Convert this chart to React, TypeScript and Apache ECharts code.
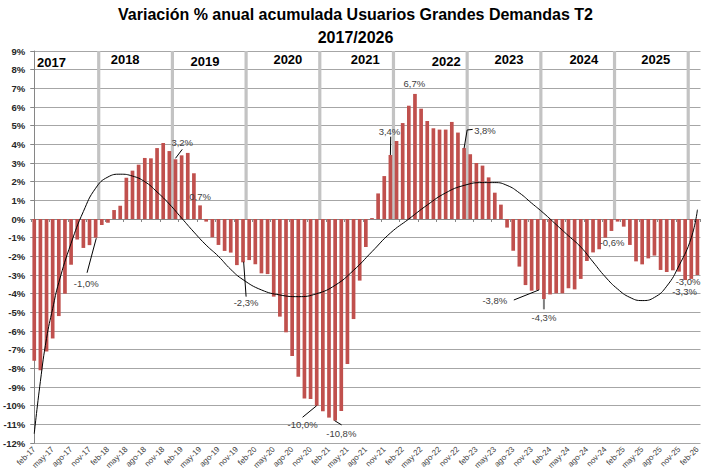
import { useEffect, useRef } from "react";
import * as echarts from "echarts";

// ---------- DATA ----------
const MONTH_NAMES = ["ene", "feb", "mar", "abr", "may", "jun", "jul", "ago", "sep", "oct", "nov", "dic"];
const categories: string[] = [];
for (let k = 0; k < 109; k++) {
  const m = (1 + k) % 12;
  const y = 17 + Math.floor((1 + k) / 12);
  categories.push(`${MONTH_NAMES[m]}-${y}`);
}

const values2017 = [-7.6, -8.1, -7.1, -6.4, -5.2, -4.0, -2.45, -1.1, -1.55, -1.4, -1.0];
const values2018 = [-0.32, -0.2, 0.48, 0.71, 2.21, 2.59, 2.91, 3.27, 3.25, 3.8, 4.07, 3.64];
const values2019 = [3.2, 3.41, 3.54, 2.45, 0.73, -0.14, -0.98, -1.39, -1.71, -1.8, -2.47, -2.32];
const values2020 = [-2.2, -2.43, -2.91, -2.95, -4.16, -5.23, -6.07, -7.34, -8.45, -9.62, -9.64, -10.0];
const values2021 = [-10.3, -10.64, -10.8, -10.28, -7.77, -5.36, -3.3, -1.5, 0.05, 1.37, 2.3, 3.43];
const values2022 = [4.18, 5.14, 6.07, 6.7, 5.91, 5.25, 4.86, 4.79, 4.79, 5.2, 4.63, 3.8];
const values2023 = [3.47, 3.0, 2.86, 2.23, 1.41, 0.77, -0.46, -1.7, -2.55, -3.54, -3.84, -3.8];
const values2024 = [-4.29, -4.04, -3.98, -3.98, -3.71, -3.77, -3.21, -2.25, -1.79, -1.62, -1.0, -0.64];
const values2025 = [-0.14, -0.41, -1.39, -2.27, -2.43, -2.11, -1.96, -2.73, -2.84, -2.75, -2.82, -3.27];
const values2026 = [-3.21, -3.0];
const values = [
  ...values2017, ...values2018, ...values2019, ...values2020, ...values2021,
  ...values2022, ...values2023, ...values2024, ...values2025, ...values2026,
];

// trend line (polynomial trend): [month index, value]
const trendPoints: [number, number][] = [
  [0, -11.5], [1, -8.7], [2, -6.4], [3, -4.8], [4, -3.4], [6, -1.3], [8, 0.4],
  [10, 1.65], [12, 2.25], [14, 2.4], [16, 2.3], [18, 2.0], [20, 1.45], [22, 0.8],
  [24, 0.05], [26, -0.7], [28, -1.4], [30, -2.0], [32, -2.7], [34, -3.25], [37, -3.8],
  [40, -4.07], [43, -4.16], [46, -4.0], [49, -3.55], [52, -2.75], [55, -1.75],
  [58, -0.75], [61, 0.0], [64, 0.75], [67, 1.4], [70, 1.8], [73, 1.95], [75, 1.95],
  [77, 1.8], [79, 1.4], [81, 0.85], [83, 0.3], [85, -0.3], [87, -0.9], [89, -1.5],
  [91, -2.3], [93, -3.1], [95, -3.75], [97, -4.2], [99, -4.37], [101, -4.2],
  [103, -3.6], [105, -2.5], [107, -1.0], [108, 0.5],
];

const yearNames = ["2017", "2018", "2019", "2020", "2021", "2022", "2023", "2024", "2025"];

// ---------- LAYOUT (annotation anchors in data space) ----------
const yearLabelAnchors: [number, number][] = [
  [2.8, 8.36], [14.8, 8.52], [27.8, 8.46], [41.3, 8.57], [53.9, 8.57],
  [67.1, 8.46], [77.3, 8.57], [89.5, 8.52], [101.2, 8.57],
];

type Annot = {
  i: number;
  lx: number;
  ly: number;
  align?: string;
  leader?: [number, number][];
  leaderColor?: string;
  leaderWidth?: number;
};
const annotations: Annot[] = [
  { i: 10, lx: 8.46, ly: -3.48, leader: [[10.1, -1.03], [8.6, -2.88]] },
  { i: 23, lx: 24.1, ly: 4.12, leader: [[23, 3.25], [24.1, 3.73]] },
  { i: 27, lx: 27, ly: 1.23 },
  { i: 34, lx: 34.5, ly: -4.45, leader: [[34.1, -2.29], [34.5, -4.16]] },
  { i: 46, lx: 43.7, ly: -11.03, leader: [[46, -10.0], [43.7, -10.62]] },
  { i: 49, lx: 50, ly: -11.49, leader: [[48.9, -10.8], [50.05, -11.03]] },
  { i: 58, lx: 57.85, ly: 4.69, leader: [[58, 3.43], [58.05, 4.41]] },
  { i: 62, lx: 61.9, ly: 7.26 },
  { i: 70, lx: 73.4, ly: 4.74, leader: [[70, 3.79], [70.5, 4.77], [71.4, 4.8]] },
  { i: 82, lx: 75, ly: -4.37, leader: [[82.2, -3.8], [78.1, -4.34]] },
  { i: 83, lx: 83, ly: -5.28, leader: [[83, -4.29], [83, -4.84]], leaderColor: "#7f7f7f", leaderWidth: 2 },
  { i: 94, lx: 94.1, ly: -1.26 },
  { i: 106, lx: 105.9, ly: -3.86 },
  { i: 108, lx: 108.5, ly: -3.35, align: "right" },
];

const FONT = "'Liberation Sans', Arial, sans-serif";

function fmt(v: number) {
  return v.toFixed(1).replace(".", ",") + "%";
}

export default function App() {
  const ref = useRef<HTMLDivElement>(null);
  useEffect(() => {
    if (!ref.current) return;
    const chart = echarts.init(ref.current, undefined, { renderer: "svg" });
    const sepIdx = categories.map((c, i) => (c.startsWith("ene") ? i - 0.5 : null)).filter((v) => v !== null) as number[];

    const option: any = {
      animation: false,
      backgroundColor: "#ffffff",
      title: {
        text: "Variación % anual acumulada Usuarios Grandes Demandas T2\n2017/2026",
        left: "center",
        top: 3,
        padding: 0,
        textStyle: { fontFamily: FONT, fontWeight: "bold", fontSize: 16, color: "#000", lineHeight: 23 },
      },
      grid: { left: 28.5, right: 10.5, top: 51, bottom: 31, containLabel: false },
      xAxis: [
        {
          type: "category",
          data: categories,
          position: "bottom",
          axisLine: { show: false, onZero: false },
          axisTick: { show: false },
          splitLine: { show: false },
          axisLabel: {
            interval: 2,
            rotate: 45,
            fontSize: 8,
            fontFamily: FONT,
            color: "#404040",
            margin: 5,
          },
        },
        {
          type: "category",
          data: categories,
          position: "bottom",
          axisLine: { show: true, onZero: true, lineStyle: { color: "#868686", width: 1 } },
          axisTick: { show: true, interval: 2, length: 3, lineStyle: { color: "#868686" } },
          axisLabel: { show: false },
          splitLine: { show: false },
        },
        { type: "value", min: -0.5, max: 108.5, show: false },
      ],
      yAxis: {
        type: "value",
        min: -12,
        max: 9,
        interval: 1,
        axisLine: { show: true, lineStyle: { color: "#868686" } },
        axisTick: { show: true, length: 4, lineStyle: { color: "#868686" } },
        splitLine: { show: true, lineStyle: { color: "#a6a6a6", width: 1 } },
        axisLabel: {
          formatter: (v: number) => `${v}%`,
          fontFamily: FONT,
          fontWeight: "bold",
          fontSize: 9.5,
          color: "#262626",
          margin: 6,
        },
      },
      series: [
        {
          type: "custom",
          name: "separadores",
          xAxisIndex: 2,
          yAxisIndex: 0,
          z: 1,
          silent: true,
          data: sepIdx.map((x) => [x, 9]),
          renderItem: (params: any, api: any) => {
            const x = api.value(0);
            const top = api.coord([x, 9]);
            const zero = api.coord([x, 0]);
            return {
              type: "rect",
              shape: { x: top[0] - 1.6, y: top[1], width: 3.2, height: zero[1] - top[1] },
              style: { fill: "#c3c3c3" },
            };
          },
        },
        {
          type: "bar",
          name: "Variación",
          xAxisIndex: 0,
          yAxisIndex: 0,
          data: values,
          barWidth: "60%",
          itemStyle: { color: "#c0504d" },
          z: 2,
        },
        {
          type: "line",
          name: "Tendencia",
          xAxisIndex: 2,
          yAxisIndex: 0,
          data: trendPoints,
          smooth: true,
          showSymbol: false,
          symbol: "none",
          lineStyle: { color: "#000000", width: 1 },
          z: 3,
          clip: true,
        },
        {
          type: "custom",
          name: "años",
          xAxisIndex: 2,
          yAxisIndex: 0,
          z: 4,
          silent: true,
          data: yearLabelAnchors,
          renderItem: (params: any, api: any) => {
            const p = api.coord([api.value(0), api.value(1)]);
            return {
              type: "text",
              x: p[0],
              y: p[1],
              style: {
                text: yearNames[params.dataIndex],
                fill: "#000",
                fontFamily: FONT,
                fontWeight: "bold",
                fontSize: 13,
                align: "center",
                verticalAlign: "middle",
              },
            };
          },
        },
        {
          type: "custom",
          name: "etiquetas",
          xAxisIndex: 2,
          yAxisIndex: 0,
          z: 5,
          silent: true,
          data: annotations.map((a) => [a.lx, a.ly]),
          renderItem: (params: any, api: any) => {
            const a = annotations[params.dataIndex];
            const p = api.coord([a.lx, a.ly]);
            const children: any[] = [];
            if (a.leader) {
              children.push({
                type: "polyline",
                shape: { points: a.leader.map((pt) => api.coord(pt)) },
                style: { stroke: a.leaderColor || "#000", lineWidth: a.leaderWidth || 1, fill: "none" },
              });
            }
            children.push({
              type: "text",
              x: p[0],
              y: p[1],
              style: {
                text: fmt(values[a.i]),
                fill: "#404040",
                fontFamily: FONT,
                fontSize: 9.5,
                align: a.align || "center",
                verticalAlign: "middle",
              },
            });
            return { type: "group", children };
          },
        },
      ],
    };
    chart.setOption(option);
    return () => chart.dispose();
  }, []);
  return (
    <div
      ref={ref}
      style={{ position: "absolute", left: 0, top: 0, width: 711, height: 474 }}
    />
  );
}
